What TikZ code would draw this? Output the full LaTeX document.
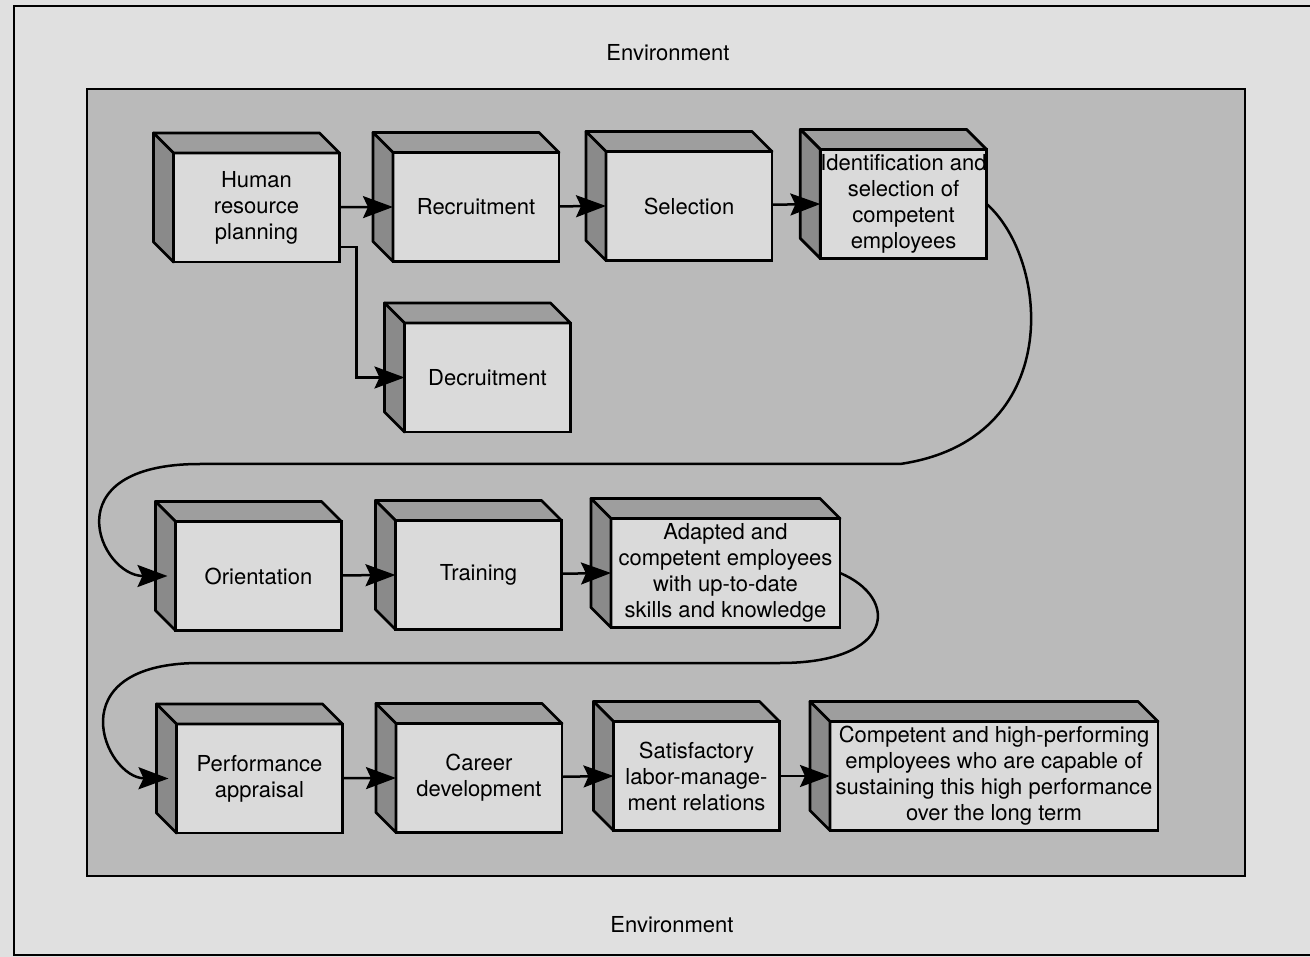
\documentclass[tikz,border=0pt]{standalone}
\usepackage{fontspec}
\setmainfont{TeX Gyre Heros}
\usepackage{tikz}
\usetikzlibrary{positioning}
\usetikzlibrary{arrows.meta}
\usetikzlibrary{calc}
\definecolor{envgray}{RGB}{224,224,224}
\definecolor{panelgray}{RGB}{186,186,186}
\definecolor{facegray}{RGB}{218,218,218}
\definecolor{topgray}{RGB}{158,158,158}
\definecolor{leftgray}{RGB}{138,138,138}

\tikzset{
  stage/.style={rectangle, draw, line width=2.8pt, fill=facegray, outer sep=0pt,
    inner xsep=0pt, minimum width=166pt, minimum height=109pt, align=center,
    font=\fontsize{22}{26}\selectfont},
  sideface/.style={draw, line width=2.8pt, line join=round},
  flow/.style={->, line width=2.5pt}
}
% the two visible back faces of a stage box
\newcommand{\boxsides}[1]{%
  \draw[sideface, fill=topgray] (#1.north west) -- ++(-20pt,20pt) -- ($(#1.north east)+(-20pt,20pt)$) -- (#1.north east) -- cycle;
  \draw[sideface, fill=leftgray] (#1.north west) -- ++(-20pt,20pt) -- ($(#1.south west)+(-20pt,20pt)$) -- (#1.south west) -- cycle;}

\begin{document}
\begin{tikzpicture}[x=1pt,y=-1pt,>={Stealth[length=30pt,width=22pt,inset=5pt]}]
\useasboundingbox (0,0) rectangle (1310,957);
\fill[envgray] (0,0) rectangle (1310,957);
\draw[line width=2.5pt] (1310,955) -- (14,955) -- (14,6) -- (1310,6);
\draw[line width=2.5pt, fill=panelgray] (87,89) rectangle (1245,876);
\node (envtop) at (668,53) {\fontsize{22}{26}\selectfont Environment};
\node (envbot) at (672,925) {\fontsize{22}{26}\selectfont Environment};
% first row
\node [stage] (hrp) at (256.5,207.5) {Human\\resource\\planning};
\node [stage] (recr) at (476,207) {Recruitment};
\node [stage] (sel) at (689,206) {Selection};
\node [stage] (ident) at (903.5,204) {Identification and\\selection of\\competent\\employees};
\node [stage] (decr) at (487.5,377.5) {Decruitment};
% second row
\node [stage] (orient) at (258.5,576) {Orientation};
\node [stage] (train) at (478.5,575) {Training};
\node [stage, minimum width=229pt] (adapt) at (725.5,573) {Adapted and\\competent employees\\with up-to-date\\skills and knowledge};
% third row
\node [stage] (perf) at (259.5,778.5) {Performance\\appraisal};
\node [stage] (career) at (479,778) {Career\\development};
\node [stage] (satis) at (696.5,776) {Satisfactory\\labor-manage-\\ment relations};
\node [stage, minimum width=328pt] (compet) at (994,776) {Competent and high-performing\\employees who are capable of\\sustaining this high performance\\over the long term};
\foreach \n in {hrp,recr,sel,ident,decr,orient,train,adapt,perf,career,satis,compet}
  {\boxsides{\n}}
% connectors
\draw[flow] (hrp) -- (recr.west);
\draw[flow] (recr) -- (sel.west);
\draw[flow] (sel) -- (ident.west);
\draw[flow] ($(hrp.south east)+(0pt,15pt)$) -| ($(decr.west)+(-48pt,0pt)$) -- (decr.west);
\draw[flow] (ident.east) .. controls (1050,260) and (1065,440) .. (900,464) -- (200,464) .. controls (50,464) and (100,576) .. ($(orient.west)+(-8pt,0pt)$);
\draw[flow] (orient) -- (train.west);
\draw[flow] (train) -- (adapt.west);
\draw[flow] (adapt.east) .. controls (900,598) and (895,663) .. (780,663) -- (200,663) .. controls (55,663) and (105,778) .. ($(perf.west)+(-8pt,0pt)$);
\draw[flow] (perf) -- (career.west);
\draw[flow] (career) -- (satis.west);
\draw[flow] (satis) -- (compet.west);
\end{tikzpicture}
\end{document}
